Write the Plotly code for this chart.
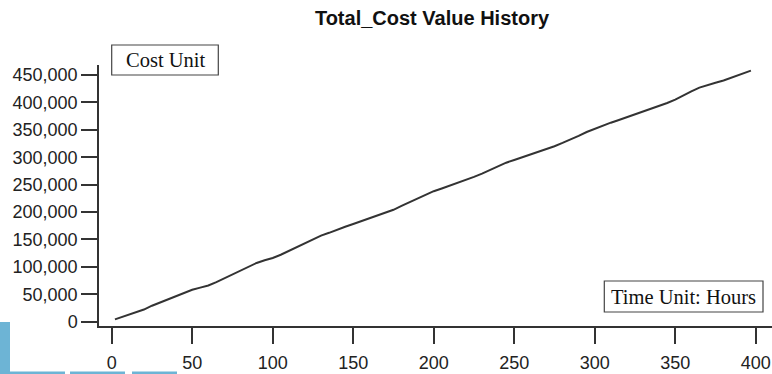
import plotly.graph_objects as go

hours = [2, 5, 10, 15, 20, 25, 30, 35, 40, 45, 50, 55, 60, 65, 70, 75, 80, 85, 90, 95,
         100, 105, 110, 115, 120, 125, 130, 135, 140, 145, 150, 155, 160, 165, 170, 175,
         180, 185, 190, 195, 200, 205, 210, 215, 220, 225, 230, 235, 240, 245, 250, 255,
         260, 265, 270, 275, 280, 285, 290, 295, 300, 305, 310, 315, 320, 325, 330, 335,
         340, 345, 350, 355, 360, 365, 370, 375, 380, 385, 390, 395, 397]
total_cost = [4000, 7000, 11000, 16000, 22000, 29000, 35000, 41000, 47000, 53000, 58000,
              62000, 66000, 72000, 79000, 87000, 94000, 101000, 107000, 112000, 116000,
              122000, 129000, 136000, 143000, 150000, 157000, 162000, 168000, 173000,
              178000, 183000, 188000, 193000, 198000, 204000, 211000, 218000, 225000,
              231000, 238000, 243000, 248000, 253000, 258000, 264000, 270000, 277000,
              284000, 290000, 295000, 300000, 305000, 309000, 314000, 320000, 326000,
              332000, 339000, 346000, 352000, 358000, 363000, 368000, 373000, 378000,
              383000, 388000, 393000, 399000, 405000, 413000, 420000, 427000, 432000,
              436000, 440000, 445000, 450000, 456000, 458000]

x_ticks = [0, 50, 100, 150, 200, 250, 300, 350, 400]
y_ticks = [0, 50000, 100000, 150000, 200000, 250000, 300000, 350000, 400000, 450000]

title_text = "Total_Cost Value History"
y_unit_label = "Cost Unit"
x_unit_label = "Time Unit: Hours"

W, H = 772, 374
L, R, T, B = 99, 0, 65, 48
PW, PH = W - L - R, H - T - B


def px(x):
    return (x - L) / PW


def py(y):
    return (H - B - y) / PH


fig = go.Figure()
fig.add_trace(go.Scatter(x=hours, y=total_cost, mode="lines",
                         line=dict(color="#333333", width=2),
                         showlegend=False, hoverinfo="x+y"))

tick_font = dict(family="Liberation Sans, Arial, sans-serif", size=18, color="#222222")

fig.update_layout(
    width=W, height=H,
    margin=dict(l=L, r=R, t=T, b=B),
    paper_bgcolor="white", plot_bgcolor="white",
    title=dict(text="<b>" + title_text + "</b>", x=432 / W, xref="container", xanchor="center",
               y=1 - 18 / H, yref="container", yanchor="middle",
               font=dict(family="Liberation Sans, Arial, sans-serif", size=20, color="#111111")),
    xaxis=dict(range=[-7.9, 410.1], tickvals=x_ticks, ticktext=[str(v) for v in x_ticks],
               showgrid=False, zeroline=False, showline=True, linecolor="#333333", linewidth=1.5,
               ticks="outside", ticklen=16, tickwidth=1.5, tickcolor="#333333",
               tickfont=tick_font, ticklabelstandoff=4, automargin=False),
    yaxis=dict(range=[-8030, 468250], tickvals=y_ticks, tickformat=",",
               showgrid=False, zeroline=False, showline=True, linecolor="#333333", linewidth=1.5,
               ticks="outside", ticklen=16, tickwidth=1.5, tickcolor="#333333",
               tickfont=tick_font, automargin=False),
)

box_font = dict(family="Liberation Serif, Times New Roman, serif", size=20.5, color="#111111")

# label boxes
for (x0, y0, x1, y1, txt) in [(111.7, 45, 218.3, 75, y_unit_label),
                              (604.3, 281, 763, 312, x_unit_label)]:
    fig.add_shape(type="rect", xref="paper", yref="paper",
                  x0=px(x0), x1=px(x1), y0=py(y1), y1=py(y0),
                  line=dict(color="#444444", width=1.2), fillcolor="white", layer="above")
    fig.add_annotation(xref="paper", yref="paper", x=px((x0 + x1) / 2), y=py((y0 + y1) / 2),
                       text=txt, showarrow=False, font=box_font,
                       xanchor="center", yanchor="middle")

# blue page artifact at bottom left
blue = "#6db4d5"
for (x0, y0, x1, y1) in [(0, 322, 10, 374), (10, 371.5, 65, 374), (70, 371.5, 125, 374),
                         (132, 371.5, 177, 374)]:
    fig.add_shape(type="rect", xref="paper", yref="paper",
                  x0=px(x0), x1=px(x1), y0=py(y1), y1=py(y0),
                  line=dict(width=0), fillcolor=blue, layer="above")

fig.write_html("out.html", config={"displayModeBar": False},
               post_script="document.body.style.margin='0px';document.body.style.overflow='hidden';")
